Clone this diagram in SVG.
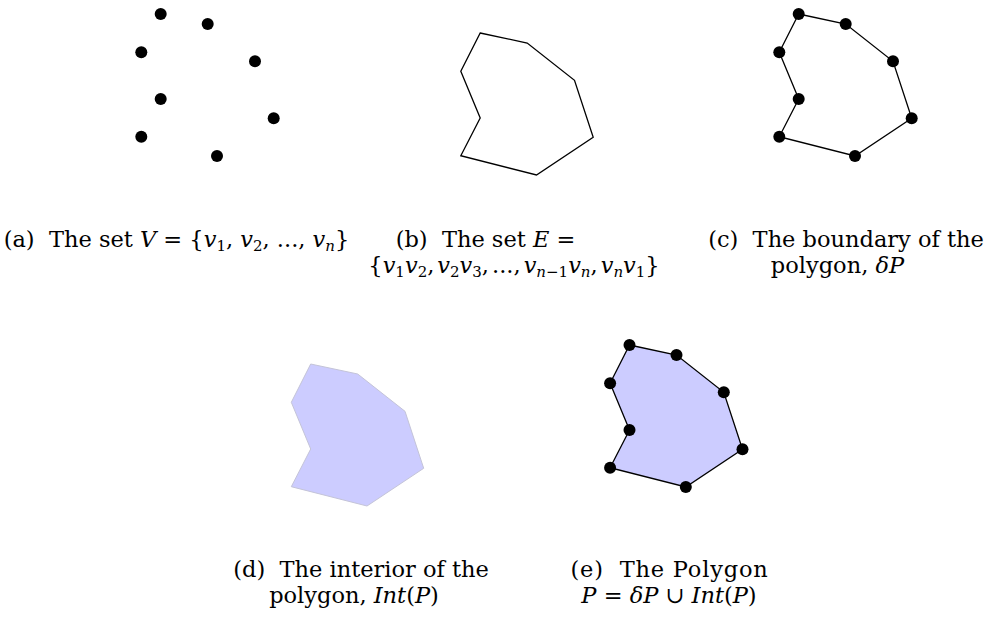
<svg xmlns="http://www.w3.org/2000/svg" xmlns:xlink="http://www.w3.org/1999/xlink" width="989" height="618" viewBox="0 0 989 618">
<style>
.cap{font-family:"DejaVu Serif","Liberation Serif",serif;font-size:22.5px;fill:#000;white-space:pre}
.m{font-style:italic}
.sub{font-size:15px}
.dot{fill:#000}
.edge{fill:none;stroke:#000;stroke-width:1.3;stroke-linejoin:miter}
.int{fill:#ccccff;stroke:#c4c4d8;stroke-width:1}
.poly{fill:#ccccff;stroke:#000;stroke-width:1.3}
</style>
<defs>
<polygon id="shape" points="160.7,14 207.7,24 255,61.3 273.7,118.3 217,156 141.3,136.7 160.7,99 141.3,52.3"/>
<g id="dots">
<circle class="dot" cx="160.7" cy="14" r="6"/>
<circle class="dot" cx="207.7" cy="24" r="6"/>
<circle class="dot" cx="255" cy="61.3" r="6"/>
<circle class="dot" cx="273.7" cy="118.3" r="6"/>
<circle class="dot" cx="217" cy="156" r="6"/>
<circle class="dot" cx="141.3" cy="136.7" r="6"/>
<circle class="dot" cx="160.7" cy="99" r="6"/>
<circle class="dot" cx="141.3" cy="52.3" r="6"/>
</g>
</defs>

<g id="panel-a">
<use xlink:href="#dots"/>
<text class="cap" x="176.5" y="247" text-anchor="middle" xml:space="preserve">(a)  The set <tspan class="m">V</tspan> = {<tspan class="m">v</tspan><tspan class="sub" dy="4">1</tspan><tspan dy="-4">, </tspan><tspan class="m">v</tspan><tspan class="sub" dy="4">2</tspan><tspan dy="-4">, ..., </tspan><tspan class="m">v</tspan><tspan class="sub m" dy="4">n</tspan><tspan dy="-4">}</tspan></text>
</g>

<g id="panel-b">
<use xlink:href="#shape" class="edge" transform="translate(319.5,19)"/>
<text class="cap" x="485.5" y="247" text-anchor="middle" xml:space="preserve">(b)  The set <tspan class="m">E</tspan> =</text>
<text class="cap" x="514" y="273" text-anchor="middle" xml:space="preserve">{<tspan class="m">v</tspan><tspan class="sub" dy="4">1</tspan><tspan class="m" dy="-4">v</tspan><tspan class="sub" dy="4">2</tspan><tspan dy="-4">,</tspan><tspan class="m" dx="3">v</tspan><tspan class="sub" dy="4">2</tspan><tspan class="m" dy="-4">v</tspan><tspan class="sub" dy="4">3</tspan><tspan dy="-4">,</tspan><tspan dx="3">...,</tspan><tspan class="m" dx="3">v</tspan><tspan class="sub" dy="4"><tspan class="m">n</tspan>−1</tspan><tspan class="m" dy="-4">v</tspan><tspan class="sub m" dy="4">n</tspan><tspan dy="-4">,</tspan><tspan class="m" dx="3">v</tspan><tspan class="sub m" dy="4">n</tspan><tspan class="m" dy="-4">v</tspan><tspan class="sub" dy="4">1</tspan><tspan dy="-4">}</tspan></text>
</g>

<g id="panel-c">
<use xlink:href="#shape" class="edge" transform="translate(638,0)"/>
<use xlink:href="#dots" transform="translate(638,0)"/>
<text class="cap" x="846" y="247" text-anchor="middle" xml:space="preserve">(c)  The boundary of the</text>
<text class="cap" x="837.5" y="273" text-anchor="middle" xml:space="preserve">polygon, <tspan class="m">δP</tspan></text>
</g>

<g id="panel-d">
<use xlink:href="#shape" class="int" transform="translate(150,350)"/>
<text class="cap" x="361" y="577" text-anchor="middle" xml:space="preserve">(d)  The interior of the</text>
<text class="cap" x="354" y="603" text-anchor="middle" xml:space="preserve">polygon, <tspan class="m">Int</tspan>(<tspan class="m">P</tspan>)</text>
</g>

<g id="panel-e">
<use xlink:href="#shape" class="poly" transform="translate(468.8,331)"/>
<use xlink:href="#dots" transform="translate(468.8,331)"/>
<text class="cap" x="669.5" y="577" text-anchor="middle" xml:space="preserve" style="letter-spacing:0.8px">(e)  The Polygon</text>
<text class="cap" x="669" y="603" text-anchor="middle" xml:space="preserve"><tspan class="m">P</tspan> = <tspan class="m">δP</tspan> ∪ <tspan class="m">Int</tspan>(<tspan class="m">P</tspan>)</text>
</g>
</svg>
